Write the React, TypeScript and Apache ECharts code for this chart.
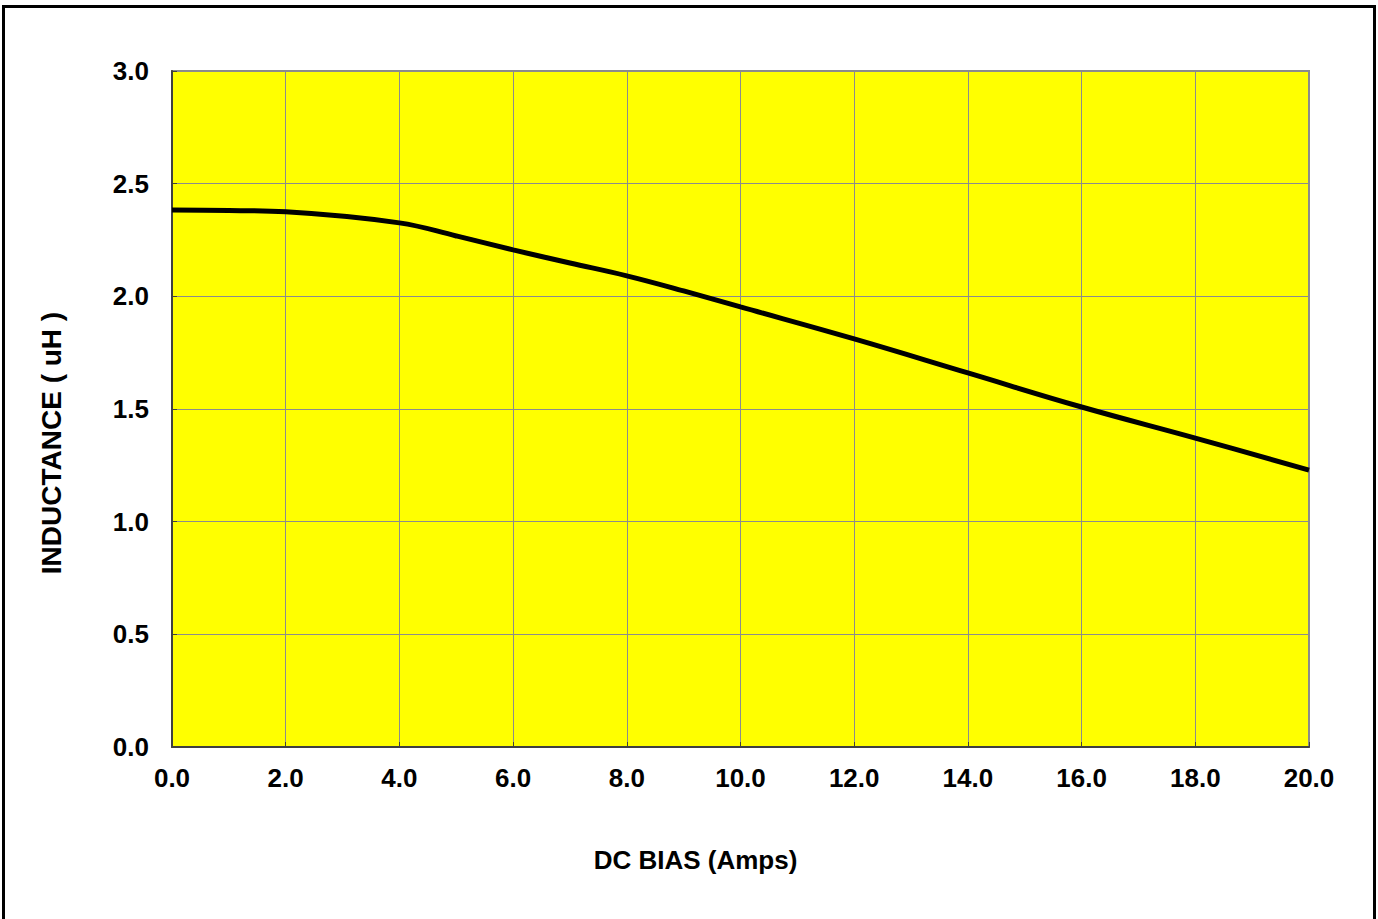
import React, { useEffect, useRef } from "react";
import * as echarts from "echarts";

const biasAmps: number[] = [0, 1, 2, 4, 5, 6, 7, 8, 9, 10, 12, 14, 16, 18, 20];
const inductanceUH: number[] = [2.383, 2.381, 2.375, 2.326, 2.268, 2.206, 2.148, 2.091, 2.024, 1.953, 1.811, 1.66, 1.509, 1.371, 1.229];
const xAxisTitle = "DC BIAS (Amps)";
const yAxisTitle = "INDUCTANCE ( uH )";

const FONT = "'Liberation Sans', Arial, sans-serif";

export default function App() {
  const ref = useRef<HTMLDivElement>(null);
  useEffect(() => {
    if (!ref.current) return;
    const chart = echarts.init(ref.current, null, { renderer: "svg" });
    const data = biasAmps.map((x, i) => [x, inductanceUH[i]]);
    chart.setOption({
      animation: false,
      backgroundColor: "#ffffff",
      graphic: [
        {
          type: "rect",
          silent: true,
          z: -10,
          shape: { x: 3.5, y: 6.5, width: 1371, height: 1000 },
          style: { fill: "none", stroke: "#000000", lineWidth: 3 },
        },
      ],
      grid: {
        left: 172,
        top: 71,
        right: 69,
        bottom: 172,
        show: true,
        backgroundColor: "#ffff00",
        borderColor: "#8a8a8a",
        borderWidth: 2,
      },
      xAxis: {
        type: "value",
        min: 0,
        max: 20,
        interval: 2,
        name: xAxisTitle,
        nameLocation: "middle",
        nameGap: 100,
        nameTextStyle: {
          fontFamily: FONT,
          fontWeight: "bold",
          fontSize: 26,
          color: "#000",
          padding: [0, 90, 0, 0],
        },
        axisLine: { show: true, lineStyle: { color: "#404040", width: 2 } },
        axisTick: { show: true, inside: true, length: 5, lineStyle: { color: "#404040", width: 1 } },
        axisLabel: {
          margin: 18,
          fontFamily: FONT,
          fontWeight: "bold",
          fontSize: 26,
          color: "#000",
          formatter: (v: number) => v.toFixed(1),
        },
        splitLine: { show: true, lineStyle: { color: "#8c8c8c", width: 1 } },
      },
      yAxis: {
        type: "value",
        min: 0,
        max: 3,
        interval: 0.5,
        name: yAxisTitle,
        nameLocation: "middle",
        nameGap: 107,
        nameRotate: 90,
        nameTextStyle: {
          fontFamily: FONT,
          fontWeight: "bold",
          fontSize: 28,
          color: "#000",
          padding: [0, 68, 0, 0],
        },
        axisLine: { show: true, lineStyle: { color: "#404040", width: 2 } },
        axisTick: { show: true, inside: true, length: 5, lineStyle: { color: "#404040", width: 1 } },
        axisLabel: {
          margin: 23,
          fontFamily: FONT,
          fontWeight: "bold",
          fontSize: 26,
          color: "#000",
          formatter: (v: number) => v.toFixed(1),
        },
        splitLine: { show: true, lineStyle: { color: "#8c8c8c", width: 1 } },
      },
      series: [
        {
          type: "line",
          data,
          smooth: 0.4,
          showSymbol: false,
          symbol: "none",
          lineStyle: { color: "#000000", width: 5 },
        },
      ],
    });
    return () => chart.dispose();
  }, []);
  return (
    <div
      ref={ref}
      style={{ position: "absolute", left: 0, top: 0, width: 1378, height: 919 }}
    />
  );
}
